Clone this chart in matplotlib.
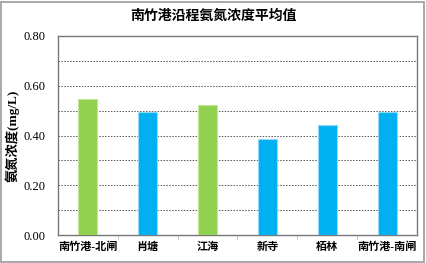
import matplotlib.pyplot as plt
import matplotlib.patches as patches
import numpy as np

plt.rcParams['font.family'] = ['Liberation Serif', 'Noto Sans CJK SC', 'DejaVu Sans']

sites = ['南竹港-北闸', '肖塘', '江海', '新寺', '栢林', '南竹港-南闸']
values = [0.548, 0.496, 0.523, 0.387, 0.443, 0.495]
colors = ['#92D050', '#00B0F0', '#92D050', '#00B0F0', '#00B0F0', '#00B0F0']
edges = ['#C4E69A', '#8FDBF8', '#C4E69A', '#8FDBF8', '#8FDBF8', '#8FDBF8']

fig = plt.figure(figsize=(4.26, 2.63), dpi=100)
ax = fig.add_axes([58/426, 1 - 235/263, (417-58)/426, (235-36)/263])

x = np.arange(len(sites))
ax.bar(x, values, width=0.32, color=colors, edgecolor=edges, linewidth=0.8, zorder=3)

ax.set_xlim(-0.5, len(sites) - 0.5)
ax.set_ylim(0, 0.8)
ax.set_yticks(np.arange(0, 0.81, 0.2))
ax.set_yticklabels(['%.2f' % v for v in np.arange(0, 0.81, 0.2)], fontsize=9)
for y in np.arange(0.1, 0.8, 0.1):
    ax.axhline(y, color='#555555', linestyle=(0, (1.5, 1.5)), linewidth=0.7, zorder=1)

ax.set_xticks(x)
ax.set_xticklabels(sites, fontsize=8, fontweight='bold')
ax.set_xticks(np.arange(0.5, len(sites) - 0.5, 1), minor=True)
ax.tick_params(axis='x', which='major', length=0, pad=5)
ax.tick_params(axis='x', which='minor', length=3, color='#bbbbbb', direction='out')
ax.tick_params(axis='y', which='both', length=0, pad=9)

for s in ax.spines.values():
    s.set_color('#777777')
    s.set_linewidth(1.0)

ax.set_ylabel('氨氮浓度(mg/L)', fontsize=9.5, fontweight='bold', labelpad=3)
fig.text(0.5, 1 - 16/263, '南竹港沿程氨氮浓度平均值', ha='center', va='center',
         fontsize=10, fontweight='bold')

fig.patches.append(patches.Rectangle((0.002, 0.004), 0.994, 0.99, transform=fig.transFigure,
                                     fill=False, edgecolor='#999999', linewidth=1.2))

fig.savefig('out.png', dpi=100)
